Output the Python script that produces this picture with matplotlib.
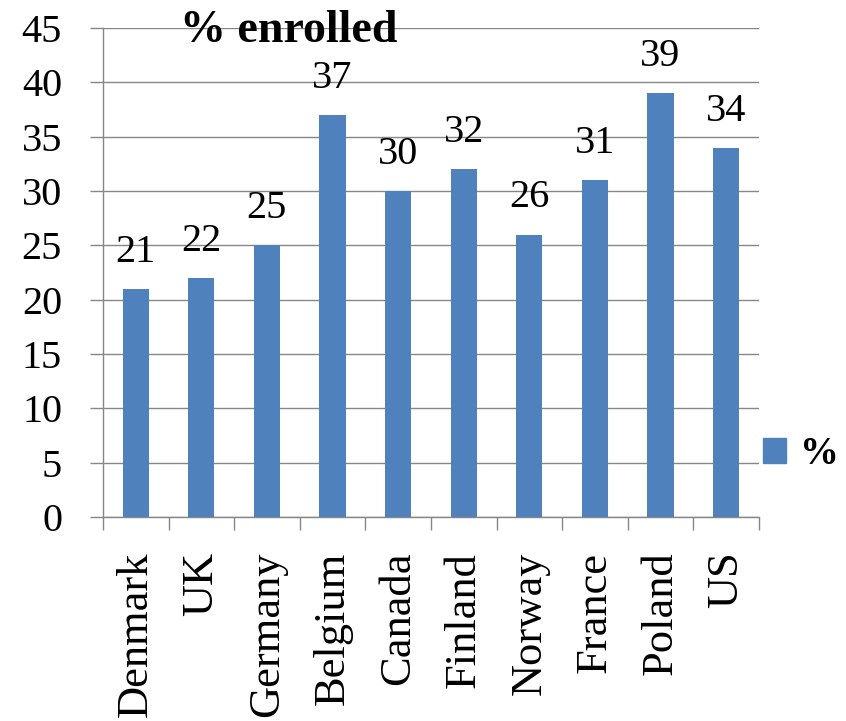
import matplotlib
matplotlib.use("Agg")
import matplotlib.pyplot as plt
from matplotlib.patches import Patch

countries = ["Denmark", "UK", "Germany", "Belgium", "Canada",
             "Finland", "Norway", "France", "Poland", "US"]
enrolled = [21, 22, 25, 37, 30, 32, 26, 31, 39, 34]
y_ticks = [0, 5, 10, 15, 20, 25, 30, 35, 40, 45]

plt.rcParams["font.family"] = ["Liberation Serif", "DejaVu Serif"]

bar_color = "#4F81BD"
grid_color = "#868686"

fig = plt.figure(figsize=(8.46, 7.21), dpi=100)
ax = fig.add_axes([0.1217, 0.283, 0.7753, 0.678])

x = list(range(len(countries)))
bars = ax.bar(x, enrolled, width=0.4, color=bar_color, zorder=3)

for xi, v in zip(x, enrolled):
    ax.annotate(str(v), (xi, v), xytext=(0, 19.5), textcoords="offset points",
                ha="center", va="baseline", fontsize=29, color="black")

ax.set_xlim(-0.5, len(countries) - 0.5)
ax.set_ylim(0, 45)
ax.set_yticks(y_ticks)
ax.set_yticklabels([str(t) for t in y_ticks], fontsize=29)
ax.yaxis.grid(True, color=grid_color, linewidth=1.0, zorder=0)
ax.set_axisbelow(True)

# category boundaries carry the tick marks; names sit at bar centres
ax.set_xticks([i - 0.5 for i in range(len(countries) + 1)])
ax.set_xticklabels([])
ax.set_xticks(x, minor=True)
ax.set_xticklabels(countries, minor=True, rotation=90, fontsize=32)
ax.tick_params(axis="x", which="major", direction="out", length=9.4,
               width=1.0, color=grid_color)
ax.tick_params(axis="x", which="minor", length=0, pad=25)
ax.tick_params(axis="y", direction="out", length=9.4, width=1.0,
               color=grid_color, pad=20)

for side in ["top", "right"]:
    ax.spines[side].set_visible(False)
for side in ["left", "bottom"]:
    ax.spines[side].set_color(grid_color)
    ax.spines[side].set_linewidth(1.0)

ax.text(0.118, 0.995, "% enrolled", transform=ax.transAxes, ha="left",
        va="center", fontsize=33, fontweight="bold")

leg = ax.legend(handles=[Patch(facecolor=bar_color, edgecolor=bar_color)],
                labels=["%"], loc="center left", bbox_to_anchor=(1.006, 0.127),
                frameon=False, handlelength=0.6, handleheight=0.6,
                handletextpad=0.36, borderaxespad=0, borderpad=0,
                prop={"size": 28, "weight": "bold"})

fig.savefig("out.png", dpi=100)
